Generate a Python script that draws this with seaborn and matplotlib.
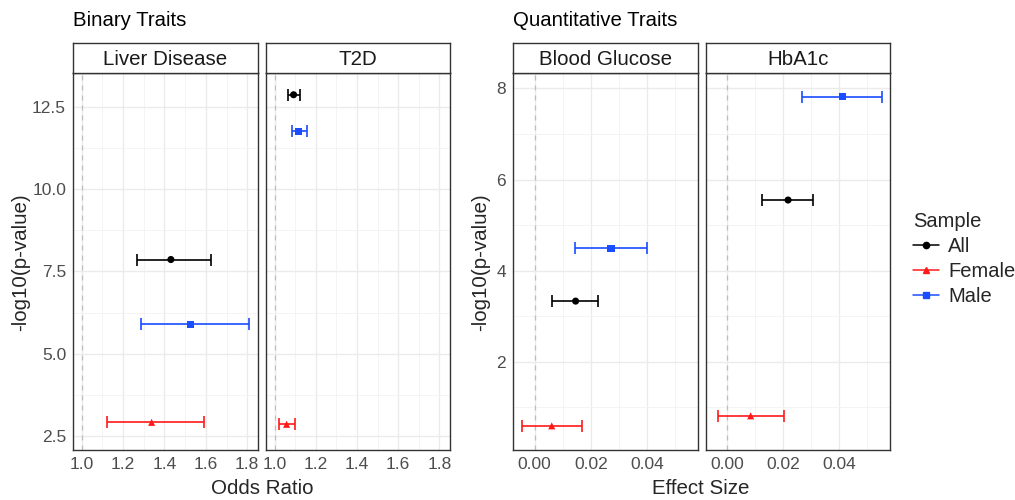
import numpy as np
import pandas as pd
import matplotlib
matplotlib.use("Agg")
import matplotlib.pyplot as plt
from matplotlib.lines import Line2D
from matplotlib.ticker import MultipleLocator
import seaborn as sns

# data
samples = ["All", "Female", "Male"]
sample_colors = {"All": "#000000", "Female": "#FF1A1A", "Male": "#1A4DFF"}
sample_markers = {"All": "o", "Female": "^", "Male": "s"}

binary_trait = ["Liver Disease"] * 3 + ["T2D"] * 3
binary_sample = samples * 2
binary_or = [1.431, 1.338, 1.527, 1.092, 1.058, 1.116]
binary_lo = [1.266, 1.121, 1.288, 1.066, 1.022, 1.084]
binary_hi = [1.623, 1.592, 1.810, 1.122, 1.100, 1.157]
binary_logp = [7.86, 2.92, 5.90, 12.86, 2.86, 11.75]

quant_trait = ["Blood Glucose"] * 3 + ["HbA1c"] * 3
quant_sample = samples * 2
quant_beta = [0.0146, 0.0061, 0.0272, 0.0217, 0.0083, 0.0411]
quant_lo = [0.0063, -0.0046, 0.0144, 0.0125, -0.0034, 0.0268]
quant_hi = [0.0227, 0.0168, 0.0402, 0.0306, 0.0201, 0.0554]
quant_logp = [3.33, 0.59, 4.49, 5.55, 0.81, 7.82]

binary = pd.DataFrame({"trait": binary_trait, "Sample": binary_sample, "est": binary_or,
                       "lo": binary_lo, "hi": binary_hi, "logp": binary_logp})
quant = pd.DataFrame({"trait": quant_trait, "Sample": quant_sample, "est": quant_beta,
                      "lo": quant_lo, "hi": quant_hi, "logp": quant_logp})

sns.set_theme(style="whitegrid")
plt.rcParams['font.family'] = ['Liberation Sans', 'DejaVu Sans']

W, H = 1015, 500
fig = plt.figure(figsize=(W / 100, H / 100), dpi=100)

def px_axes(x0, y0, x1, y1):
    return fig.add_axes([x0 / W, 1 - y1 / H, (x1 - x0) / W, (y1 - y0) / H])

grey_txt = "#4D4D4D"
border = "#333333"

def panel(box, df, trait, xlim, ylim, xmaj, ymaj, ref, show_y, xfmt, yfmt):
    x0, x1 = box
    ax = px_axes(x0, 73, x1, 450)
    sub = df[df.trait == trait]
    ax.axvline(ref, color="#BEBEBE", lw=0.9, ls=(0, (4, 4)), zorder=1)
    for _, r in sub.iterrows():
        ax.errorbar(r.est, r.logp, xerr=[[r.est - r.lo], [r.hi - r.est]], fmt="none",
                    ecolor=sample_colors[r.Sample], elinewidth=1.2, capsize=4, capthick=1.2, zorder=3)
    sns.scatterplot(data=sub, x="est", y="logp", hue="Sample", style="Sample",
                    palette=sample_colors, markers=sample_markers, s=26, linewidth=0,
                    legend=False, ax=ax, zorder=4)
    ax.set_xlim(*xlim)
    ax.set_ylim(*ylim)
    ax.xaxis.set_major_locator(MultipleLocator(xmaj))
    ax.xaxis.set_minor_locator(MultipleLocator(xmaj / 2))
    ax.yaxis.set_major_locator(MultipleLocator(ymaj))
    ax.yaxis.set_minor_locator(MultipleLocator(ymaj / 2))
    ax.grid(which="major", color="#EBEBEB", lw=1.0)
    ax.grid(which="minor", color="#F2F2F2", lw=0.6)
    ax.set_axisbelow(True)
    ax.set_xlabel("")
    ax.set_ylabel("")
    ax.xaxis.set_major_formatter(xfmt)
    ax.yaxis.set_major_formatter(yfmt)
    ax.tick_params(axis="both", which="major", length=3, width=0.8, color=border,
                   labelsize=12.5, labelcolor=grey_txt, pad=2)
    ax.tick_params(axis="both", which="minor", length=0)
    if not show_y:
        ax.tick_params(axis="y", which="major", length=0, labelleft=False)
    for s in ax.spines.values():
        s.set_visible(True)
        s.set_color(border)
        s.set_linewidth(1.0)
    # facet strip
    st = px_axes(x0, 43, x1, 73)
    st.set_xticks([])
    st.set_yticks([])
    st.set_facecolor("white")
    for s in st.spines.values():
        s.set_color(border)
        s.set_linewidth(1.0)
    st.text(0.5, 0.45, trait, ha="center", va="center", fontsize=14.8, color="#1A1A1A",
            transform=st.transAxes)
    return ax

fmt_b = plt.FormatStrFormatter("%.1f")
fmt_q = plt.FormatStrFormatter("%.2f")
fmt_int = plt.FormatStrFormatter("%d")
ylim_b = (2.08, 13.52)
ylim_q = (0.06, 8.34)
xlim_b = (0.958, 1.852)
xlim_q = (-0.0077, 0.0582)

panel((73, 258), binary, "Liver Disease", xlim_b, ylim_b, 0.2, 2.5, 1.0, True, fmt_b, fmt_b)
panel((266, 450), binary, "T2D", xlim_b, ylim_b, 0.2, 2.5, 1.0, False, fmt_b, fmt_b)
panel((513, 698), quant, "Blood Glucose", xlim_q, ylim_q, 0.02, 2, 0.0, True, fmt_q, fmt_int)
panel((706, 890), quant, "HbA1c", xlim_q, ylim_q, 0.02, 2, 0.0, False, fmt_q, fmt_int)

fig.text(73 / W, 1 - 20 / H, "Binary Traits", fontsize=14.7, color="#000000", va="center", ha="left")
fig.text(513 / W, 1 - 20 / H, "Quantitative Traits", fontsize=14.7, color="#000000", va="center", ha="left")
fig.text(262 / W, 1 - 489 / H, "Odds Ratio", fontsize=14.8, ha="center", va="center")
fig.text(701 / W, 1 - 489 / H, "Effect Size", fontsize=14.8, ha="center", va="center")
fig.text(21 / W, 1 - 262 / H, "-log10(p-value)", fontsize=14.8, rotation=90, ha="center", va="center")
fig.text(481 / W, 1 - 262 / H, "-log10(p-value)", fontsize=14.8, rotation=90, ha="center", va="center")

handles = [Line2D([0], [0], color=sample_colors[s], marker=sample_markers[s], markersize=4.5,
                  lw=1.1) for s in samples]
leg = fig.legend(handles, samples, title="Sample", loc="upper left",
                 bbox_to_anchor=(913 / W, 1 - 212 / H), frameon=False, fontsize=14.5,
                 title_fontsize=14.5, handlelength=1.3, handletextpad=0.45, labelspacing=0.3,
                 borderaxespad=0, borderpad=0)
leg._legend_box.align = "left"

fig.savefig("out.png", dpi=100)
